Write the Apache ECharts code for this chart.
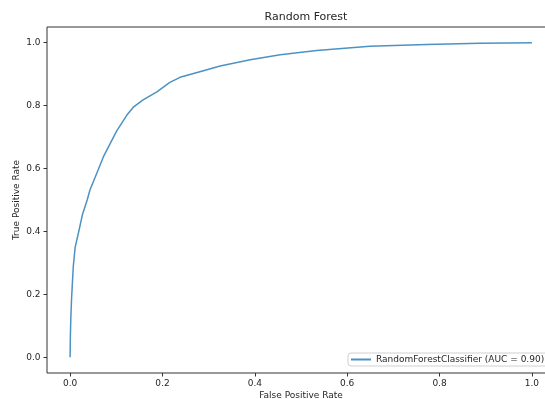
<!DOCTYPE html>
<html>
<head>
<meta charset="utf-8">
<script src="https://cdn.jsdelivr.net/npm/echarts@6/dist/echarts.min.js"></script>
<style>
  html, body { margin: 0; padding: 0; background: #fff; }
  #main { width: 545px; height: 399px; }
</style>
</head>
<body>
<div id="main"></div>
<script>
// ROC curve points
var fpr = [0, 0.0005, 0.0015, 0.003, 0.005, 0.007, 0.011, 0.018, 0.027, 0.037,
  0.043, 0.058, 0.072, 0.087, 0.101, 0.123, 0.137, 0.158, 0.188, 0.216,
  0.238, 0.281, 0.325, 0.39, 0.455, 0.534, 0.649, 0.772, 0.887, 1.0];
var tpr = [0, 0.06, 0.12, 0.18, 0.236, 0.29, 0.35, 0.395, 0.455, 0.5,
  0.532, 0.586, 0.637, 0.68, 0.72, 0.77, 0.795, 0.818, 0.844, 0.874,
  0.89, 0.908, 0.926, 0.946, 0.962, 0.975, 0.989, 0.994, 0.998, 1.0];
var ticks = [0, 0.2, 0.4, 0.6, 0.8, 1.0];
var seriesName = "RandomForestClassifier (AUC = 0.90)";

var points = [];
for (var i = 0; i < fpr.length; i++) {
  points.push([fpr[i], tpr[i]]);
}

var font = "DejaVu Sans";
var myChart = echarts.init(document.getElementById("main"));

function axis(name, gap, margin) {
  return {
    type: "value",
    min: -0.05,
    max: 1.05,
    name: name,
    nameLocation: "middle",
    nameGap: gap,
    nameMoveOverlap: false,
    nameTextStyle: { fontFamily: font, fontSize: 9, color: "#262626" },
    axisLine: { show: false, onZero: false },
    splitLine: { show: false },
    axisTick: {
      show: true,
      length: 3.5,
      customValues: ticks,
      lineStyle: { color: "#333" }
    },
    axisLabel: {
      margin: margin,
      customValues: ticks,
      fontFamily: font,
      fontSize: 9,
      color: "#262626",
      formatter: function (v) { return v.toFixed(1); }
    }
  };
}

var yAx = axis("True Positive Rate", 26, 6.5);
yAx.nameRotate = 90;

var option = {
  animation: false,
  backgroundColor: "#fff",
  title: {
    text: "Random Forest",
    left: 301,
    top: 7,
    textAlign: "center",
    textStyle: { fontFamily: font, fontSize: 11, fontWeight: "normal", color: "#262626" }
  },
  grid: {
    left: 47,
    top: 27,
    width: 508,
    height: 346,
    outerBoundsMode: "none",
    containLabel: false,
    show: true,
    borderColor: "#333",
    borderWidth: 1
  },
  legend: {
    left: 348,
    top: 353,
    icon: "rect",
    itemWidth: 20,
    itemHeight: 2,
    padding: [2, 6, 2, 3],
    borderColor: "#d0d0d0",
    borderWidth: 1,
    borderRadius: 3,
    backgroundColor: "#fff",
    textStyle: { fontFamily: font, fontSize: 9, color: "#262626" },
    data: [seriesName]
  },
  xAxis: axis("False Positive Rate", 18, 6),
  yAxis: yAx,
  series: [
    {
      name: seriesName,
      type: "line",
      data: points,
      showSymbol: false,
      symbol: "none",
      lineStyle: { color: "#1f77b4", width: 1.5, opacity: 0.8 },
      itemStyle: { color: "#4c92c3" }
    }
  ]
};
myChart.setOption(option);
</script>
</body>
</html>
